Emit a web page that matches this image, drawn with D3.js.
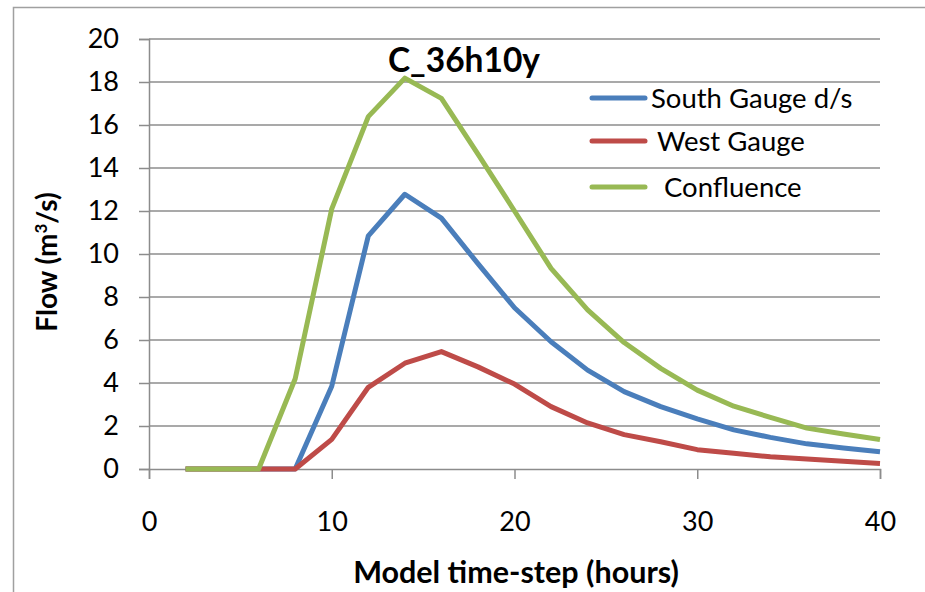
<!DOCTYPE html>
<html><head><meta charset="utf-8">
<script src="https://cdn.jsdelivr.net/npm/d3@7/dist/d3.min.js"></script>
<style>body{margin:0;background:#fff}svg{display:block}text{font-family:Lato,"Open Sans",sans-serif}</style>
</head><body><svg id="c" width="925" height="592"></svg>
<script>
const hours = [2,4,6,8,10,12,14,16,18,20,22,24,26,28,30,32,34,36,38,40];
const southGauge = [0,0,0,0,3.85,10.84,12.78,11.67,9.55,7.5,5.92,4.6,3.6,2.9,2.33,1.82,1.47,1.17,0.98,0.8];
const westGauge = [0,0,0,0,1.38,3.8,4.92,5.46,4.75,3.95,2.9,2.14,1.6,1.27,0.9,0.73,0.57,0.46,0.36,0.26];
const confluence = [0,0,0,4.2,12.1,16.39,18.18,17.24,14.65,12.0,9.33,7.4,5.88,4.68,3.67,2.92,2.4,1.9,1.63,1.37];
const seriesNames = ["South Gauge d/s","West Gauge","Confluence"];
const seriesColors = ["#4a7ebb","#be4b48","#98b954"];
const xTicks = [0,10,20,30,40];
const yTicks = [0,2,4,6,8,10,12,14,16,18,20];
const title = "C_36h10y";

const svg = d3.select("#c");
svg.append("rect").attr("x",13.5).attr("y",7.5).attr("width",930).attr("height",600)
  .attr("fill","#fff").attr("stroke","#a0a0a0").attr("stroke-width",1.5);

const x = d3.scaleLinear().domain([0,40]).range([149,880]);
const y = d3.scaleLinear().domain([0,20]).range([469,39]);
const grid = "#8c8c8c";

// horizontal gridlines
svg.append("g").selectAll("line").data(yTicks.filter(d=>d>0)).join("line")
  .attr("x1",149).attr("x2",880).attr("y1",d=>y(d)).attr("y2",d=>y(d))
  .attr("stroke",grid).attr("stroke-width",1.5);

// y axis
const ya = svg.append("g").attr("transform","translate(149,0)")
  .call(d3.axisLeft(y).tickValues(yTicks).tickSize(10).tickPadding(20).tickFormat(d3.format("d")));
ya.select(".domain").attr("stroke",grid).attr("stroke-width",1.5);
ya.selectAll(".tick line").attr("stroke",grid).attr("stroke-width",1.5);
ya.selectAll(".tick text").attr("font-size",27).attr("fill","#000");

// x axis
const xa = svg.append("g").attr("transform","translate(0,469)")
  .call(d3.axisBottom(x).tickValues(xTicks).tickSize(10).tickPadding(33).tickFormat(d3.format("d")));
xa.select(".domain").attr("stroke",grid).attr("stroke-width",1.5);
xa.selectAll(".tick line").attr("stroke",grid).attr("stroke-width",1.5);
xa.selectAll(".tick text").attr("font-size",27).attr("fill","#000");

// lines
const data = [southGauge, westGauge, confluence];
const line = d3.line().x((d,i)=>x(hours[i])).y(d=>y(d));
data.forEach((s,k)=>{
  svg.append("path").attr("d",line(s)).attr("fill","none")
    .attr("stroke",seriesColors[k]).attr("stroke-width",5).attr("stroke-linejoin","round");
});

// title
svg.append("text").attr("x",464).attr("y",72).attr("text-anchor","middle")
  .attr("font-size",33.5).attr("font-weight","bold").text(title);

// legend
const legY = [98,141,187];
const legX = [651,657,664];
seriesNames.forEach((n,k)=>{
  svg.append("line").attr("x1",592).attr("x2",645).attr("y1",legY[k]).attr("y2",legY[k])
    .attr("stroke",seriesColors[k]).attr("stroke-width",5).attr("stroke-linecap","round");
  svg.append("text").attr("x",legX[k]).attr("y",legY[k]+10).attr("font-size",27.5).text(n);
});

// axis titles
svg.append("text").attr("transform","translate(57,262) rotate(-90)").attr("text-anchor","middle")
  .attr("font-size",28).attr("font-weight","bold")
  .html('Flow (m<tspan dy="-10" font-size="17">3</tspan><tspan dy="10">/s)</tspan>');
svg.append("text").attr("x",516).attr("y",583).attr("text-anchor","middle")
  .attr("font-size",30.5).attr("font-weight","bold").text("Model time-step (hours)");
</script></body></html>
